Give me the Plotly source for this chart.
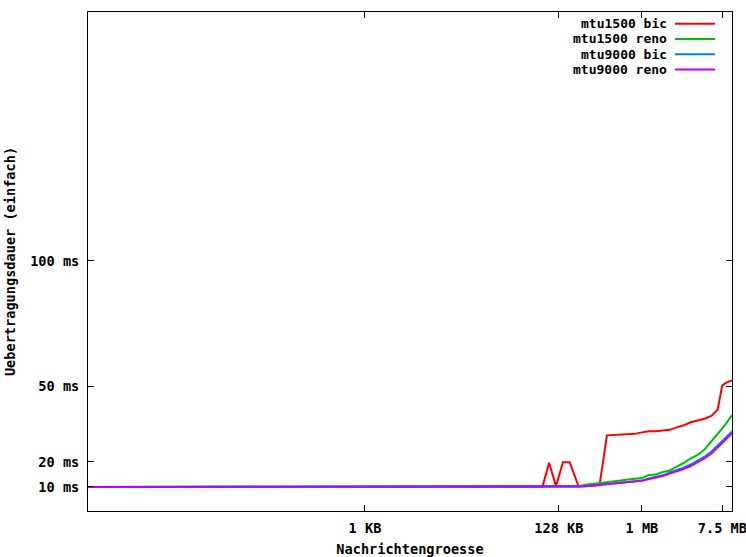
import plotly.graph_objects as go

# Message sizes in bytes
sizes = [1, 16, 256, 4096, 65536, 87000, 102800, 122000, 145400, 171700,
         214700, 254600, 303000, 363000, 437000, 520000, 620000, 740000,
         880000, 1048576, 1250000, 1490000, 1770000, 2100000, 2500000,
         2980000, 3550000, 4220000, 5020000, 5980000, 7000000, 7830000,
         8880000, 10000000]

# One-way transfer times in ms
mtu1500_bic = [10, 10, 10, 10, 10, 10, 19.6, 10.3, 19.8, 19.8,
               10.3, 10.4, 10.5, 10.6, 30.5, 30.7, 30.8, 30.9,
               31.1, 31.7, 32.1, 32.1, 32.3, 32.7, 33.7,
               34.5, 35.7, 36.3, 37.1, 38.2, 40.8, 50.4,
               51.7, 52.4]
mtu1500_reno = [10, 10, 10, 10, 10, 10, 10, 10, 10, 10.1,
                10.3, 10.9, 11.2, 11.4, 11.6, 12.2, 12.5, 12.9,
                13.2, 13.5, 14.7, 14.9, 15.9, 16.5, 18.1,
                19.5, 21.3, 22.7, 24.9, 28.1, 30.9, 33.3,
                35.9, 38.6]
mtu9000_bic = [10, 10, 10, 10, 10, 10, 9.9, 9.8, 9.9, 10,
               10.1, 10.3, 10.5, 10.8, 11.1, 11.4, 11.6, 11.9,
               12.1, 12.5, 13.3, 13.9, 14.6, 15.7, 16.6,
               17.6, 18.9, 20.4, 22.0, 24.1, 26.6, 28.5,
               30.3, 32.1]
mtu9000_reno = [10, 10, 10, 10, 10, 10, 10, 10, 10, 10,
                10.1, 10.3, 10.5, 10.8, 11.1, 11.3, 11.5, 11.8,
                12.0, 12.4, 13.1, 13.7, 14.3, 15.3, 16.1,
                17.1, 18.3, 19.7, 21.3, 23.3, 25.7, 27.5,
                29.3, 31.3]

series_names = ["mtu1500 bic", "mtu1500 reno", "mtu9000 bic", "mtu9000 reno"]
series_values = [mtu1500_bic, mtu1500_reno, mtu9000_bic, mtu9000_reno]
series_colors = ["#ff0000", "#00c000", "#0080ff", "#c000ff"]

x_tick_vals = [1024, 131072, 1048576, 7864320]
x_tick_text = ["1 KB", "128 KB", "1 MB", "7.5 MB"]
y_tick_vals = [10, 20, 50, 100]
y_tick_text = ["10 ms", "20 ms", "50 ms", "100 ms"]

FONT = dict(family="DejaVu Sans Mono", size=13.6, color="black", weight="bold")
KEY_FONT = dict(FONT, size=13)

fig = go.Figure()
for name, vals, col in zip(series_names, series_values, series_colors):
    fig.add_trace(go.Scatter(x=sizes, y=vals, mode="lines", name=name,
                             line=dict(color=col, width=2), showlegend=False))

# Key in the upper right corner: right-aligned text followed by a line sample
row_y = [0.9765, 0.946, 0.9155, 0.885]
for name, col, yy in zip(series_names, series_colors, row_y):
    fig.add_annotation(xref="paper", yref="paper", x=0.9, y=yy,
                       text=name, showarrow=False, xanchor="right",
                       yanchor="middle", borderpad=0, font=KEY_FONT)
    fig.add_shape(type="line", xref="paper", yref="paper",
                  x0=0.9115, x1=0.9736, y0=yy, y1=yy,
                  line=dict(color=col, width=2))

axis_common = dict(showline=True, linecolor="black", linewidth=1,
                   mirror="ticks", ticks="inside", ticklen=6,
                   tickcolor="black", showgrid=False, zeroline=False,
                   tickfont=FONT)

fig.update_xaxes(type="log", range=[0, 7], tickvals=x_tick_vals,
                 ticktext=x_tick_text, ticklabelstandoff=5,
                 ticklabeloverflow="allow",
                 title=dict(text="Nachrichtengroesse", font=FONT, standoff=9),
                 **axis_common)
fig.update_yaxes(range=[0.4, 199], tickvals=y_tick_vals,
                 ticktext=y_tick_text, ticklabelstandoff=5,
                 title=dict(text="Uebertragungsdauer (einfach)", font=FONT,
                            standoff=11),
                 **axis_common)

fig.update_layout(width=746, height=557,
                  margin=dict(l=88, r=14, t=12, b=46, autoexpand=False),
                  plot_bgcolor="white", paper_bgcolor="white",
                  font=FONT)

fig.write_html("out.html")
